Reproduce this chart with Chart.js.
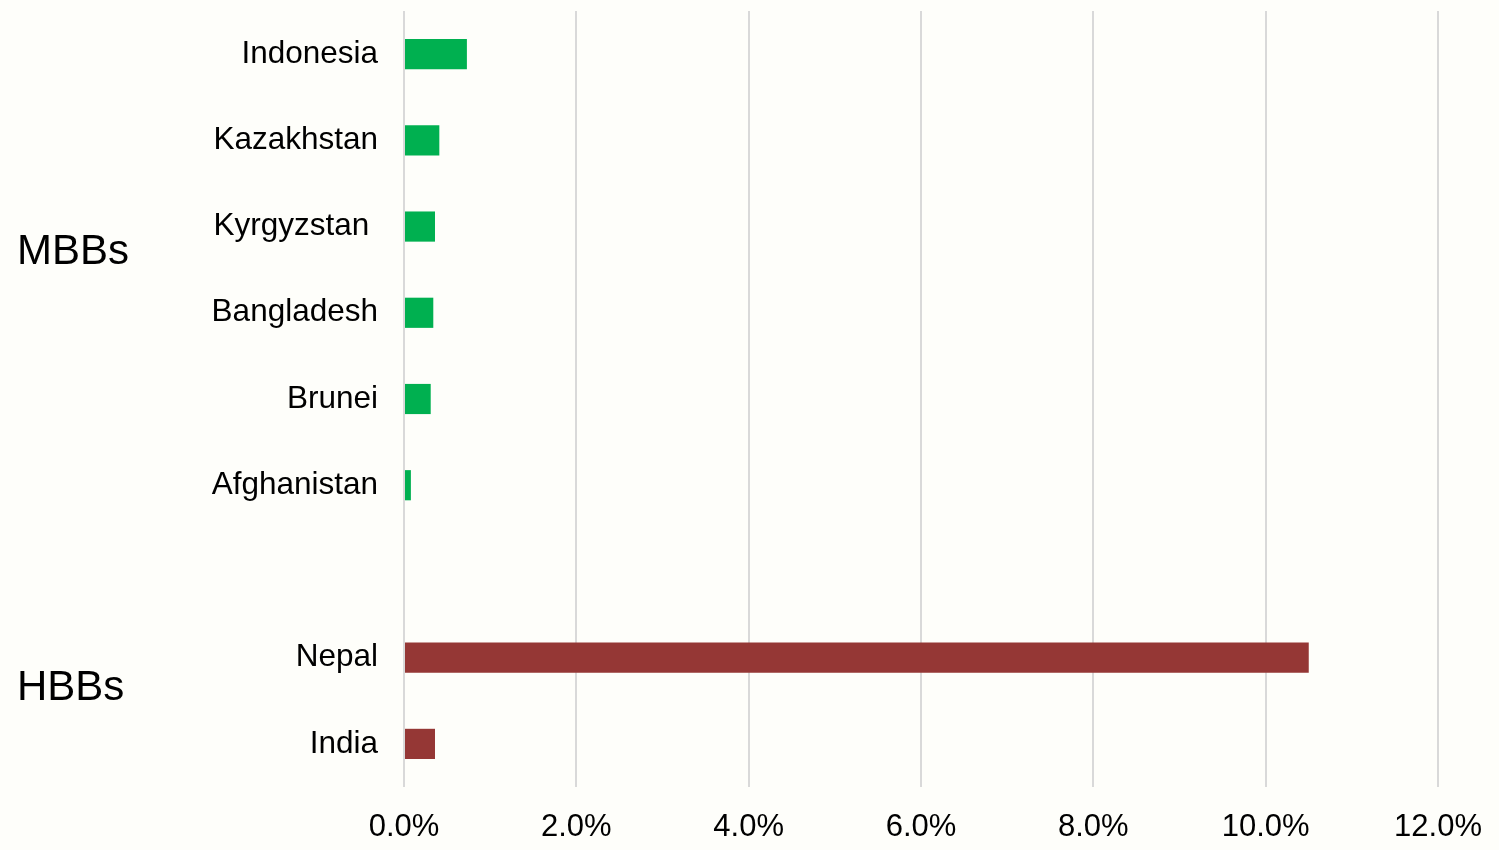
<!DOCTYPE html>
<html>
<head>
<meta charset="utf-8">
<script src="https://cdn.jsdelivr.net/npm/chart.js@4.4.1/dist/chart.umd.min.js"></script>
<style>
html,body{margin:0;padding:0;background:#FEFEFA;}
#wrap{position:relative;width:1499px;height:850px;}
</style>
</head>
<body>
<div id="wrap"><canvas id="c" width="1499" height="850"></canvas></div>
<script>
const categories = ['Indonesia','Kazakhstan','Kyrgyzstan ','Bangladesh','Brunei','Afghanistan','','Nepal','India'];
const groups = ['MBBs','MBBs','MBBs','MBBs','MBBs','MBBs','','HBBs','HBBs'];
const values = [0.73, 0.41, 0.36, 0.34, 0.31, 0.08, null, 10.5, 0.36];
const groupNames = ['MBBs','HBBs'];
const xTicks = [0, 2, 4, 6, 8, 10, 12];

const groupColors = {MBBs:'#00B050', HBBs:'#953735', '':'#000000'};
const groupLabelShift = {MBBs:-17, HBBs:-12};
const FONT = '"Liberation Sans", Arial, sans-serif';

const groupLabelPlugin = {
  id:'groupLabels',
  afterDraw(chart){
    const ctx = chart.ctx, y = chart.scales.y;
    ctx.save();
    ctx.fillStyle = '#000';
    ctx.font = '42px ' + FONT;
    ctx.textAlign = 'left';
    ctx.textBaseline = 'middle';
    groupNames.forEach(g => {
      const idx = groups.map((v,i)=>v===g?i:-1).filter(i=>i>=0);
      const a = y.getPixelForValue(idx[0]), b = y.getPixelForValue(idx[idx.length-1]);
      ctx.fillText(g, 17, (a+b)/2 + groupLabelShift[g]);
    });
    ctx.restore();
  }
};
const bgPlugin = {
  id:'bg',
  beforeDraw(chart){
    const ctx = chart.ctx;
    ctx.save(); ctx.fillStyle = '#FEFEFA'; ctx.fillRect(0,0,chart.width,chart.height); ctx.restore();
  }
};

new Chart(document.getElementById('c'), {
  type:'bar',
  data:{
    labels: categories,
    datasets:[{
      data: values,
      backgroundColor: groups.map(g => groupColors[g]),
      borderWidth:0,
      categoryPercentage:1,
      barPercentage:0.35
    }]
  },
  options:{
    indexAxis:'y',
    responsive:false,
    animation:false,
    layout:{padding:{top:11,right:61,bottom:0,left:0}},
    plugins:{legend:{display:false},tooltip:{enabled:false}},
    scales:{
      x:{
        min:xTicks[0], max:xTicks[xTicks.length-1],
        afterBuildTicks(s){ s.ticks = xTicks.map(v=>({value:v})); },
        afterFit(s){ s.height = 63; s.paddingLeft = 0; s.paddingRight = 0; },
        grid:{color:'#D9D9D9', lineWidth:2, drawTicks:false},
        border:{display:false},
        ticks:{padding:22, color:'#000', font:{family:FONT, size:31}, maxRotation:0,
          callback:v => Number(v).toFixed(1)+'%'}
      },
      y:{
        afterFit(s){ s.width = 404; s.paddingTop = 0; s.paddingBottom = 0; },
        grid:{display:false, drawTicks:false},
        border:{display:false},
        ticks:{padding:26, color:'#000', font:{family:FONT, size:31.5}, autoSkip:false}
      }
    }
  },
  plugins:[bgPlugin, groupLabelPlugin]
});
</script>
</body>
</html>
